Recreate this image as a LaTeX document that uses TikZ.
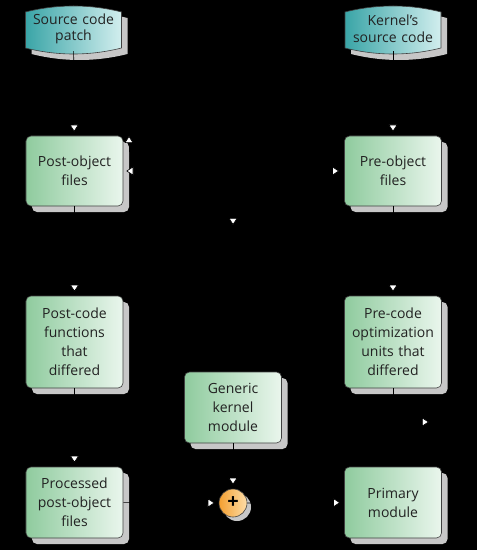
\documentclass[tikz,border=0pt]{standalone}
\usepackage{fontspec}
\setmainfont{Open Sans}
\usetikzlibrary{arrows.meta,shadows,calc}

\definecolor{boxleft}{HTML}{8FCB9E}
\definecolor{boxright}{HTML}{EAF6ED}
\definecolor{storeleft}{HTML}{3AA5A7}
\definecolor{storeright}{HTML}{D2EEEE}
\definecolor{sumleft}{HTML}{F4A031}
\definecolor{sumright}{HTML}{FDDDA8}
\definecolor{inktext}{HTML}{222222}

\tikzset{
  stepbox/.style={draw=black!75, line width=0.6bp, rounded corners=5bp,
    left color=boxleft, right color=boxright, text=inktext,
    minimum width=97bp, text width=95bp, align=center, inner xsep=1bp,
    font=\fontsize{14bp}{19bp}\selectfont,
    drop shadow={shadow xshift=6bp, shadow yshift=-6bp, fill=black!22, opacity=1}},
  storetext/.style={minimum width=97bp, minimum height=44bp, text width=95bp,
    inner xsep=1bp, align=center, text=inktext,
    font=\fontsize{14bp}{16.5bp}\selectfont},
  store/.pic={
    \fill[black!22] (-42,-12) .. controls (-10,-20) and (22,-20) .. (54,-12)
      -- (54,24) .. controls (22,32) and (-10,32) .. (-42,24) -- cycle;
    \shade[left color=storeleft, right color=storeright, draw=black!75, line width=0.6bp]
      (-48,-18) .. controls (-16,-26) and (16,-26) .. (48,-18)
      -- (48,18) .. controls (16,26) and (-16,26) .. (-48,18) -- cycle;
  },
  sumnode/.style={circle, draw=black!75, line width=0.6bp, minimum size=28bp,
    left color=sumleft, right color=sumright, inner sep=0pt,
    drop shadow={shadow xshift=4bp, shadow yshift=-4bp, fill=black!22, opacity=1}},
  flow/.style={draw=black, line width=0.6bp, -{Triangle[width=9bp,length=7bp,fill=white]},
    shorten >=4bp},
}

\begin{document}
\begin{tikzpicture}[x=1bp, y=-1bp]
  \fill[black] (0,0) rectangle (477,550);
  \useasboundingbox (0,0) rectangle (477,550);

  % data stores
  \pic at (73.5,30) {store};
  \pic at (393,30) {store};
  \node[storetext] (patch) at (73.5,29) {Source code\\patch};
  \node[storetext] (kernel) at (393,29) {Kernel’s\\source code};

  % object files
  \node[stepbox, minimum height=70bp] (postobj) at (74.5,171) {Post-object\\files};
  \node[stepbox, minimum height=70bp] (preobj) at (393,171) {Pre-object\\files};

  % differing parts
  \node[stepbox, minimum height=92bp] (postcode) at (74.5,342) {Post-code\\functions\\that\\differed};
  \node[stepbox, minimum height=92bp] (precode) at (393,342) {Pre-code\\optimization\\units that\\differed};

  % module parts
  \node[stepbox, minimum height=71bp] (generic) at (233,407.5) {Generic\\kernel\\module};
  \node[stepbox, minimum height=71bp] (processed) at (74.5,502.5) {Processed\\post-object\\files};
  \node[stepbox, minimum height=71bp] (primary) at (393,502.5) {Primary\\module};
  \node[sumnode, font=\fontsize{20bp}{20bp}\selectfont] (sum) at (233,503) {\textbf{+}};

  % free ends
  \coordinate (cmp) at ($(postobj.east)!0.5!(preobj.west)$);
  \coordinate (diff) at (233,225);
  \coordinate (back) at (129,136);
  \coordinate (out) at (429,422);

  % connectors
  \draw[flow] (patch) -- (postobj);
  \draw[flow] (kernel) -- (preobj);
  \draw[flow, {Triangle[width=9bp,length=7bp,fill=white]}-{Triangle[width=9bp,length=7bp,fill=white]},
    shorten <=3bp, shorten >=5bp] (postobj.east) -- (preobj.west);
  \draw[flow, shorten >=0bp] (cmp) -- (diff);
  \draw[flow, shorten >=0bp] (cmp) -- ++(0,-20) -| (back);
  \draw[flow] (postobj) -- (postcode);
  \draw[flow] (preobj) -- (precode);
  \draw[flow] (postcode) -- (processed);
  \draw[flow] (generic) -- (sum);
  \draw[flow] (processed) -- (sum);
  \draw[flow] (sum) -- (primary);
  \draw[flow, shorten >=0bp] (precode) |- (out);
\end{tikzpicture}
\end{document}
